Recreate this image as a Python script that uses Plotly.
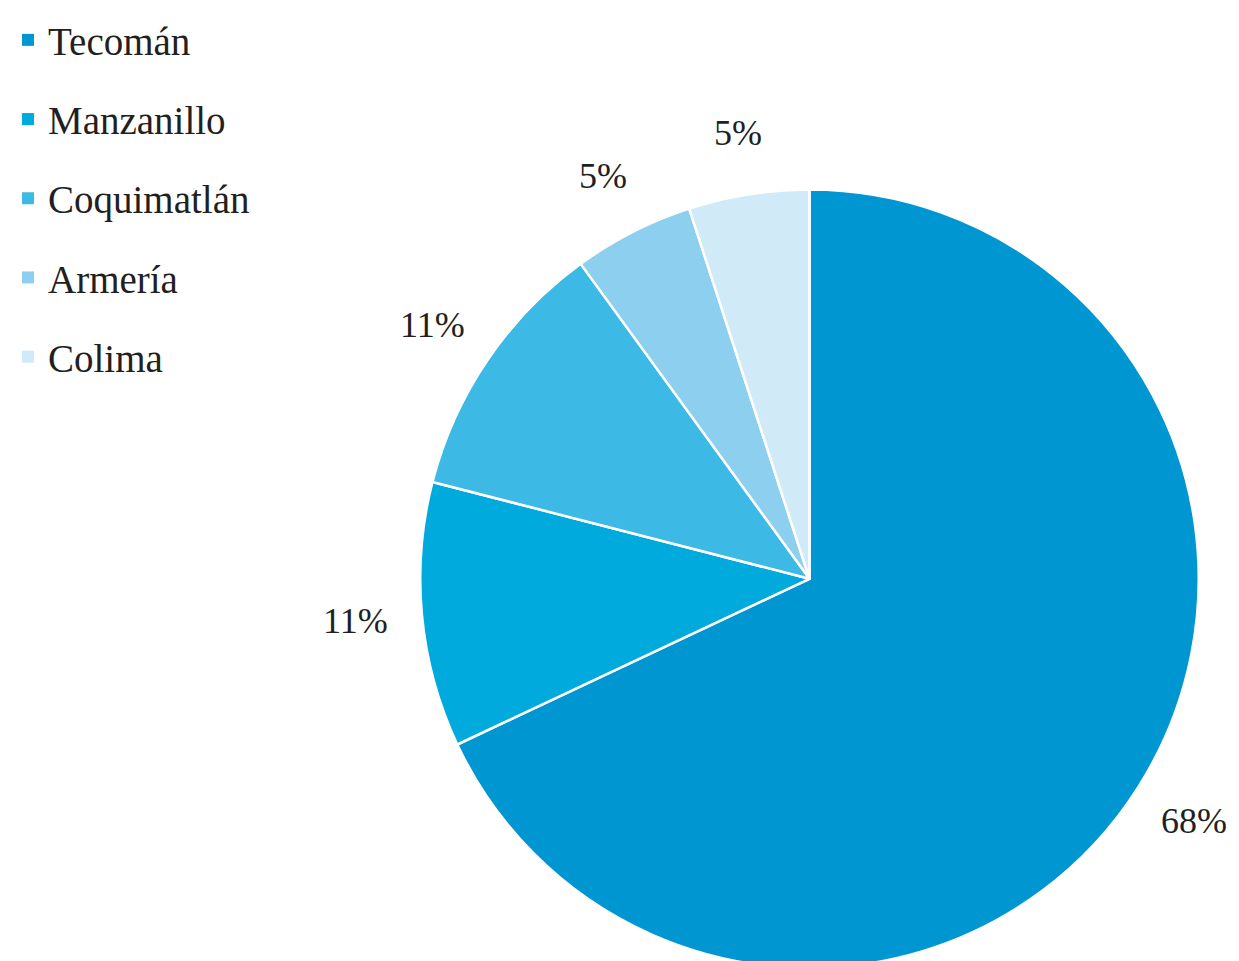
import math
import plotly.graph_objects as go

labels = ["Tecomán", "Manzanillo", "Coquimatlán", "Armería", "Colima"]
values = [68, 11, 11, 5, 5]
colors = ["#0096d2", "#00aadd", "#3cb9e5", "#8ccfee", "#d0eaf8"]

W, H = 1239, 961
# page body has an 8px margin; positions below are in figure pixels
cx, cy, r = 799, 565, 395
fig = go.Figure()

fig.add_trace(go.Pie(
    labels=labels, values=values, sort=False, direction="clockwise", rotation=0,
    marker=dict(colors=colors, line=dict(color="white", width=2.5)),
    textinfo="none", hoverinfo="label+percent", showlegend=False,
    domain=dict(x=[(cx - r) / W, (cx + r) / W],
                y=[(H - cy - r) / H, (H - cy + r) / H]),
))

# legend entries
for lab, col in zip(labels, colors):
    fig.add_trace(go.Scatter(
        x=[None], y=[None], mode="markers", name=lab, legendgroup=lab,
        marker=dict(symbol="square", size=8, color=col),
    ))

# percentage labels placed along slice mid-angles
total = sum(values)
cum = 0
for v in values:
    mid = (cum + v / 2) / total * 2 * math.pi
    cum += v
    d = 1.16 * r
    px = cx + d * math.sin(mid)
    py = cy - d * math.cos(mid)
    fig.add_annotation(
        x=px / W, y=1 - py / H, xref="paper", yref="paper",
        text=f"{round(v / total * 100)}%", showarrow=False,
        font=dict(family="Liberation Serif", size=36, color="#231f20"),
        xanchor="center", yanchor="middle",
    )

fig.update_layout(
    width=W, height=H, margin=dict(l=0, r=0, t=0, b=0),
    paper_bgcolor="white", plot_bgcolor="white",
    xaxis=dict(visible=False), yaxis=dict(visible=False),
    legend=dict(
        x=-0.006, y=1.015, xanchor="left", yanchor="top",
        font=dict(family="Liberation Serif", size=39, color="#231f20"),
        tracegroupgap=25.5, itemsizing="constant", itemwidth=30,
        bgcolor="rgba(0,0,0,0)",
    ),
    showlegend=True,
)

fig.write_html("out.html")
